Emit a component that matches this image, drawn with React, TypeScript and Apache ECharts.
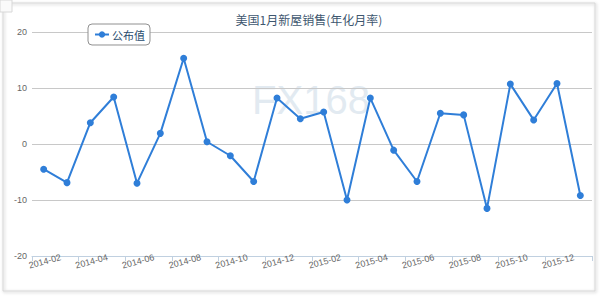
import React, { useEffect, useRef } from "react";
import * as echarts from "echarts";

const categories = [
  "2014-02", "2014-03", "2014-04", "2014-05", "2014-06", "2014-07", "2014-08", "2014-09",
  "2014-10", "2014-11", "2014-12", "2015-01", "2015-02", "2015-03", "2015-04", "2015-05",
  "2015-06", "2015-07", "2015-08", "2015-09", "2015-10", "2015-11", "2015-12", "2016-01",
];
const published = [
  -4.5, -6.9, 3.8, 8.4, -7.0, 1.9, 15.3, 0.4, -2.1, -6.7, 8.2, 4.5,
  5.7, -10.0, 8.2, -1.1, -6.7, 5.5, 5.2, -11.5, 10.7, 4.3, 10.8, -9.2,
];
const yTicks = { min: -20, max: 20, interval: 10 };
const titleText = "美国1月新屋销售(年化月率)";
const seriesName = "公布值";

export default function App() {
  const ref = useRef<HTMLDivElement>(null);
  useEffect(() => {
    if (!ref.current) return;
    const chart = echarts.init(ref.current, undefined, { renderer: "svg" });
    chart.setOption({
      animation: false,
      backgroundColor: "#ffffff",
      title: {
        text: titleText,
        left: 304,
        textAlign: "center",
        top: 8,
        textStyle: {
          fontSize: 12,
          fontWeight: "normal",
          color: "#3E576F",
          fontFamily: "'Noto Sans CJK SC', sans-serif",
        },
      },
      legend: {
        left: 88,
        top: 24,
        data: [seriesName],
        borderColor: "#909090",
        borderWidth: 1,
        borderRadius: 4,
        padding: [5, 5, 5, 6],
        itemWidth: 14,
        itemHeight: 8,
        itemGap: 4,
        backgroundColor: "#fff",
        textStyle: {
          fontSize: 11,
          color: "#274b6d",
          fontFamily: "'Noto Sans CJK SC', sans-serif",
          padding: [0, 0, 0, -2],
        },
      },
      graphic: [
        {
          type: "rect",
          shape: { x: 3, y: 3, width: 592, height: 288 },
          style: { fill: "none", stroke: "#d4d4d4", lineWidth: 1, shadowBlur: 3, shadowColor: "rgba(0,0,0,0.25)", shadowOffsetX: 1, shadowOffsetY: 1 },
          z: -10,
          silent: true,
        },
        {
          type: "rect",
          shape: { x: 0, y: 0, width: 12, height: 12 },
          style: { fill: "#fafafa", stroke: "#d8d8d8", lineWidth: 1 },
          z: -9,
          silent: true,
        },
        {
          type: "text",
          x: 311,
          y: 100,
          style: {
            text: "FX168",
            fontSize: 40,
            fontFamily: "'Liberation Sans', Arial, sans-serif",
            fill: "#e2eaf1",
            align: "center",
            verticalAlign: "middle",
          },
          z: -5,
          silent: true,
        },
      ],
      grid: { left: 32, right: 8, top: 32, bottom: 40, containLabel: false },
      xAxis: {
        type: "category",
        data: categories,
        boundaryGap: true,
        axisLine: { onZero: false, lineStyle: { color: "#c0d0e0", width: 1 } },
        axisTick: { show: true, interval: 1, length: 5, lineStyle: { color: "#c0d0e0" } },
        axisLabel: {
          interval: 1,
          rotate: 15,
          align: "center",
          verticalAlign: "top",
          margin: 1,
          fontSize: 9,
          color: "#666",
          fontFamily: "'Liberation Sans', Arial, sans-serif",
        },
        splitLine: { show: false },
      },
      yAxis: {
        type: "value",
        min: yTicks.min,
        max: yTicks.max,
        interval: yTicks.interval,
        axisLine: { show: false },
        axisTick: { show: false },
        axisLabel: {
          fontSize: 9,
          color: "#666",
          margin: 5,
          fontFamily: "'Liberation Sans', Arial, sans-serif",
        },
        splitLine: { lineStyle: { color: "#c8c8c8", width: 1 } },
      },
      series: [
        {
          name: seriesName,
          type: "line",
          data: published,
          symbol: "circle",
          symbolSize: 7,
          itemStyle: { color: "#2f7ed8" },
          lineStyle: { color: "#2f7ed8", width: 2 },
          z: 3,
        },
      ],
    });
    return () => chart.dispose();
  }, []);
  return (
    <div
      ref={ref}
      style={{ position: "fixed", left: 0, top: 0, width: 600, height: 296 }}
    />
  );
}
